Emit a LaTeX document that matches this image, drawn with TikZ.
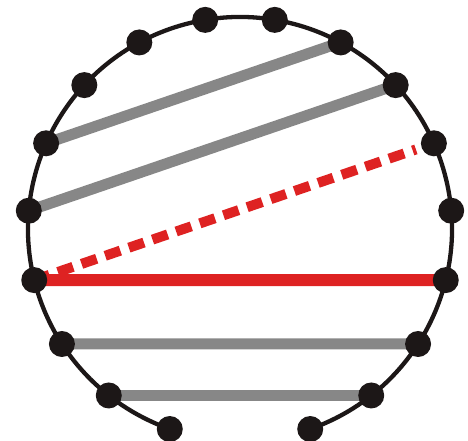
\documentclass[tikz,border=0pt]{standalone}
\usepackage{tikz}
\usetikzlibrary{calc}
\definecolor{ChordGray}{HTML}{878787}
\definecolor{ChordRed}{HTML}{DE2222}
\definecolor{DotBlack}{HTML}{1C1717}

\begin{document}
\begin{tikzpicture}[x=1pt,y=1pt,
  rim/.style={line width=4.3pt,DotBlack},
  chord/.style={line width=11pt,ChordGray},
  cut/.style={line width=12pt,ChordRed},
  guess/.style={line width=10pt,ChordRed,dash pattern=on 16pt off 9pt},
  dot/.style={circle,fill=DotBlack,inner sep=0pt,minimum size=26pt}
]
  \useasboundingbox (-240,-212) rectangle (228,229);
  % positions around the rim
  \foreach \i in {0,...,17}
    \coordinate (p\i) at ({-70.65+18.9*\i}:212);

  \draw[rim] (p0) arc[start angle=-70.65,end angle=250.65,radius=212];

  \draw[chord] (p7) -- (p12);
  \draw[chord] (p6) -- (p13);
  \draw[guess] (p14) -- ($(p14)!0.955!(p5)$);
  \draw[cut] (p14) -- (p3);
  \draw[chord] (p15) -- (p2);
  \draw[chord] (p16) -- (p1);

  \foreach \i in {0,...,17}
    \node[dot] (d\i) at (p\i) {};
\end{tikzpicture}
\end{document}
